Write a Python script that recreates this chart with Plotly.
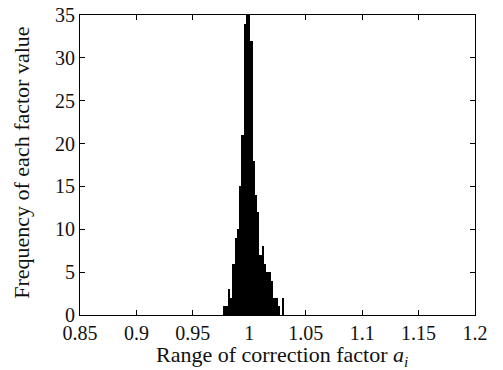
import plotly.graph_objects as go

# Histogram bin centres (correction factor a_i) and counts
bin_centers = [0.978, 0.980, 0.982, 0.984, 0.986, 0.988, 0.990, 0.992, 0.994,
               0.996, 0.998, 1.000, 1.002, 1.004, 1.006, 1.008, 1.010, 1.012,
               1.014, 1.016, 1.018, 1.020, 1.022, 1.024, 1.026, 1.028, 1.030]
counts = [1, 1, 3, 2, 6, 9, 10, 15, 21,
          34, 37, 36, 32, 18, 14, 12, 7, 8,
          6, 5, 5, 4, 2, 2, 1, 0, 2]
bin_width = 0.002

x_tick_vals = [0.85, 0.9, 0.95, 1.0, 1.05, 1.1, 1.15, 1.2]
x_tick_text = ["0.85", "0.9", "0.95", "1", "1.05", "1.1", "1.15", "1.2"]
y_tick_vals = [0, 5, 10, 15, 20, 25, 30, 35]

x_title = "Range of correction factor <i>a<sub>i</sub></i>"
y_title = "Frequency of each factor value"

font_family = "Liberation Serif, Times New Roman, serif"
text_color = "#111"

fig = go.Figure(
    go.Bar(
        x=bin_centers,
        y=counts,
        width=bin_width,
        marker=dict(color="black", line=dict(width=0)),
    )
)

axis_common = dict(
    showline=True,
    linecolor="black",
    linewidth=1,
    mirror="ticks",
    ticks="inside",
    ticklen=5,
    tickcolor="black",
    showgrid=False,
    zeroline=False,
    automargin=False,
    ticklabeloverflow="allow",
    tickfont=dict(family=font_family, size=20, color=text_color),
)

fig.update_layout(
    width=495,
    height=362,
    margin=dict(l=72, r=28, t=7, b=55),
    paper_bgcolor="white",
    plot_bgcolor="white",
    showlegend=False,
    bargap=0,
    font=dict(family=font_family, size=20, color=text_color),
    xaxis=dict(range=[0.85, 1.2], tickvals=x_tick_vals, ticktext=x_tick_text,
               **axis_common),
    yaxis=dict(range=[0, 35], tickvals=y_tick_vals, **axis_common),
    annotations=[
        dict(text=x_title, xref="paper", yref="paper", x=0.511, y=-0.084,
             xanchor="center", yanchor="top", showarrow=False,
             font=dict(family=font_family, size=22, color=text_color)),
        dict(text=y_title, xref="paper", yref="paper", x=-0.147, y=0.507,
             xanchor="center", yanchor="middle", textangle=-90, showarrow=False,
             font=dict(family=font_family, size=22, color=text_color)),
    ],
)

fig.write_html("out.html")
